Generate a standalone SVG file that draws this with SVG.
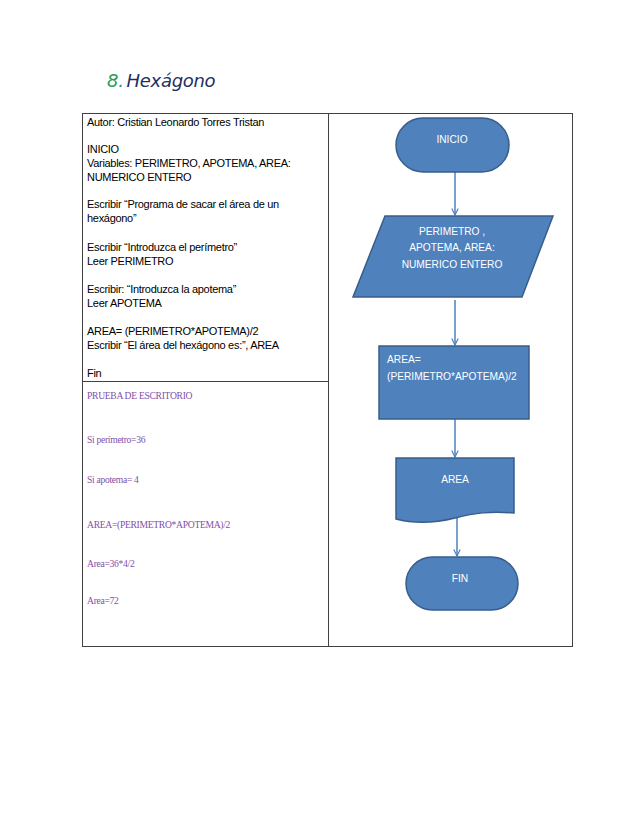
<svg xmlns="http://www.w3.org/2000/svg" width="638" height="826" viewBox="0 0 638 826">
<defs>
<marker id="arr" viewBox="0 0 10 10" refX="9" refY="5" markerWidth="8" markerHeight="8" orient="auto" markerUnits="userSpaceOnUse">
<path d="M1,1 L9,5 L1,9" fill="none" stroke="#4f81bd" stroke-width="1.5"/>
</marker>
</defs>
<style>
.shape{fill:#4f81bd;stroke:#385d8a;stroke-width:1.5}
.lbl{font-family:"Liberation Sans",Arial,sans-serif;font-size:10.2px;fill:#ffffff}
.code{font-family:"Liberation Sans",Arial,sans-serif;font-size:11px;fill:#000000;letter-spacing:-0.3px}
.test{font-family:"Liberation Serif","Times New Roman",serif;font-size:9.6px;fill:#7f4fa8;letter-spacing:-0.3px}
.conn{stroke:#4f81bd;stroke-width:1.5;fill:none}
.grid{stroke:#404040;stroke-width:1;fill:none}
</style>
<rect width="638" height="826" fill="#ffffff"/>
<g id="title">
<text x="107" y="87" font-family="'DejaVu Sans',sans-serif" font-size="18" font-style="italic" letter-spacing="-0.3"><tspan fill="#2e9b55">8.</tspan><tspan fill="#1f2f5e" dx="3">Hexágono</tspan></text>
</g>
<g id="table">
<rect class="grid" x="82.5" y="113.5" width="490" height="533"/>
<line class="grid" x1="328.5" y1="113.5" x2="328.5" y2="646.5"/>
<line class="grid" x1="82.5" y1="381.5" x2="328.5" y2="381.5"/>
</g>
<g id="pseudocode">
<text class="code" x="87" y="126">Autor: Cristian Leonardo Torres Tristan</text>
<text class="code" x="87" y="153">INICIO</text>
<text class="code" x="87" y="167">Variables: PERIMETRO, APOTEMA, AREA:</text>
<text class="code" x="87" y="181">NUMERICO ENTERO</text>
<text class="code" x="87" y="208">Escribir “Programa de sacar el área de un</text>
<text class="code" x="87" y="222">hexágono”</text>
<text class="code" x="87" y="251">Escribir “Introduzca el perímetro”</text>
<text class="code" x="87" y="265">Leer PERIMETRO</text>
<text class="code" x="87" y="293">Escribir: “Introduzca la apotema”</text>
<text class="code" x="87" y="307">Leer APOTEMA</text>
<text class="code" x="87" y="335">AREA= (PERIMETRO*APOTEMA)/2</text>
<text class="code" x="87" y="349">Escribir “El área del hexágono es:”, AREA</text>
<text class="code" x="87" y="377">Fin</text>
</g>
<g id="prueba">
<text class="test" x="87" y="399">PRUEBA DE ESCRITORIO</text>
<text class="test" x="87" y="443">Si perímetro=36</text>
<text class="test" x="87" y="483">Si apotema= 4</text>
<text class="test" x="87" y="528">AREA=(PERIMETRO*APOTEMA)/2</text>
<text class="test" x="87" y="567">Area=36*4/2</text>
<text class="test" x="87" y="604">Area=72</text>
</g>
<g id="connectors">
<line class="conn" x1="455" y1="172" x2="455" y2="215" marker-end="url(#arr)"/>
<line class="conn" x1="455" y1="300" x2="455" y2="345" marker-end="url(#arr)"/>
<line class="conn" x1="455" y1="419" x2="455" y2="457" marker-end="url(#arr)"/>
<line class="conn" x1="457" y1="518" x2="457" y2="556" marker-end="url(#arr)"/>
</g>
<g id="n-inicio">
<rect class="shape" x="396" y="118" width="113" height="54" rx="27" ry="27"/>
<text class="lbl" x="452" y="143" text-anchor="middle">INICIO</text>
</g>
<g id="n-variables">
<polygon class="shape" points="385,216 553,216 522,297 353,297"/>
<text class="lbl" x="452" y="235" text-anchor="middle">PERIMETRO ,</text>
<text class="lbl" x="452" y="251" text-anchor="middle">APOTEMA, AREA:</text>
<text class="lbl" x="452" y="268" text-anchor="middle">NUMERICO ENTERO</text>
</g>
<g id="n-proceso">
<rect class="shape" x="379" y="346" width="150" height="73"/>
<text class="lbl" x="387" y="363">AREA=</text>
<text class="lbl" x="387" y="380">(PERIMETRO*APOTEMA)/2</text>
</g>
<g id="n-area">
<path class="shape" d="M396,458 L514,458 L514,513 C490,511 475,513 455,518 C435,523 415,524 396,519 Z"/>
<text class="lbl" x="455" y="483" text-anchor="middle">AREA</text>
</g>
<g id="n-fin">
<rect class="shape" x="406" y="557" width="112" height="53" rx="26.5" ry="26.5"/>
<text class="lbl" x="460" y="582" text-anchor="middle">FIN</text>
</g>
</svg>
